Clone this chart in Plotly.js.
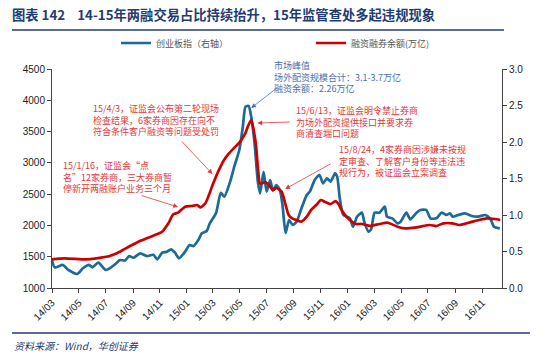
<!DOCTYPE html>
<html>
<head>
<meta charset="utf-8">
<script src="https://cdn.plot.ly/plotly-3.0.1.min.js"></script>
<style>html,body{margin:0;padding:0;background:#fff;}#chart{width:550px;height:358px;}</style>
</head>
<body>
<div id="chart"></div>
<script>
// 创业板指 (drawn on the 1000-4500 axis)
const cybDates = ['2014-03-01','2014-03-07','2014-03-26','2014-04-07','2014-04-27','2014-05-10','2014-05-24','2014-06-01','2014-06-14','2014-07-01','2014-07-10','2014-07-25','2014-08-02','2014-08-14','2014-08-23','2014-09-02','2014-09-17','2014-10-02','2014-10-17','2014-10-26','2014-11-06','2014-11-17','2014-11-26','2014-12-05','2014-12-14','2014-12-28','2015-01-07','2015-01-16','2015-01-27','2015-02-04','2015-02-15','2015-02-22','2015-03-08','2015-03-19','2015-03-27','2015-04-08','2015-04-19','2015-04-30','2015-05-08','2015-05-14','2015-05-21','2015-05-27','2015-06-04','2015-06-11','2015-06-16','2015-06-24','2015-07-01','2015-07-09','2015-07-15','2015-07-23','2015-07-31','2015-08-06','2015-08-13','2015-08-21','2015-08-29','2015-09-07','2015-09-18','2015-09-30','2015-10-07','2015-10-18','2015-10-29','2015-11-06','2015-11-15','2015-11-23','2015-12-03','2015-12-08','2015-12-14','2015-12-22','2016-01-06','2016-01-13','2016-01-22','2016-02-02','2016-02-08','2016-02-17','2016-02-23','2016-03-02','2016-03-13','2016-03-25','2016-03-30','2016-04-11','2016-04-23','2016-04-30','2016-05-13','2016-05-22','2016-06-05','2016-06-14','2016-06-27','2016-07-07','2016-07-20','2016-08-01','2016-08-12','2016-08-20','2016-08-26','2016-09-08','2016-09-23','2016-10-08','2016-10-23','2016-11-08','2016-11-19','2016-11-28','2016-12-11'];
const cybValues = [1447,1331,1368,1288,1224,1315,1368,1331,1405,1288,1315,1395,1447,1440,1511,1484,1554,1511,1530,1458,1565,1580,1618,1565,1475,1580,1687,1670,1767,1874,1911,2034,2193,2522,2459,2673,2950,3205,3578,3898,3910,3737,3285,2700,2513,2858,2540,2726,2560,2646,2566,2326,1880,2087,2007,2060,2273,2486,2540,2726,2806,2673,2753,2700,2833,2780,2433,2167,2113,1980,2140,2204,2044,1900,1937,2204,2204,2300,2140,2113,2033,2060,2204,2097,2204,2247,2247,2113,2113,2204,2167,2193,2140,2167,2193,2151,2140,2167,2113,1980,1953];

// 融资融券余额 (万亿, drawn on the 0-3 axis)
const marginDates = ['2014-03-01','2014-03-29','2014-05-17','2014-06-10','2014-07-10','2014-08-02','2014-08-25','2014-09-09','2014-10-02','2014-10-25','2014-11-06','2014-11-20','2014-12-01','2014-12-12','2014-12-28','2015-01-13','2015-01-24','2015-02-01','2015-02-12','2015-03-01','2015-03-12','2015-03-25','2015-04-06','2015-04-20','2015-04-30','2015-05-12','2015-05-20','2015-05-27','2015-06-06','2015-06-12','2015-06-16','2015-06-28','2015-07-09','2015-07-15','2015-07-23','2015-08-04','2015-08-13','2015-08-20','2015-08-28','2015-09-07','2015-09-18','2015-09-30','2015-10-10','2015-10-22','2015-11-01','2015-11-10','2015-11-23','2015-12-04','2015-12-10','2015-12-18','2015-12-29','2016-01-10','2016-01-20','2016-02-02','2016-02-21','2016-03-13','2016-04-01','2016-04-23','2016-05-10','2016-06-05','2016-07-05','2016-07-20','2016-08-05','2016-08-25','2016-09-10','2016-10-01','2016-10-25','2016-11-12','2016-11-30','2016-12-12'];
const marginValues = [0.393,0.407,0.393,0.407,0.438,0.497,0.575,0.621,0.68,0.735,0.771,0.886,1.009,1.032,1.114,1.123,1.137,1.105,1.16,1.42,1.58,1.74,1.84,1.93,1.99,2.1,2.22,2.3,2.0,1.59,1.43,1.45,1.39,1.34,1.37,1.32,1.14,1.0,0.955,0.93,0.91,0.977,1.07,1.14,1.205,1.18,1.15,1.19,1.16,1.07,0.977,0.91,0.877,0.877,0.85,0.877,0.894,0.84,0.817,0.831,0.863,0.849,0.886,0.886,0.863,0.894,0.932,0.955,0.945,0.932];

const seriesNames = ['创业板指（右轴）', '融资融券余额(万亿)'];
const leftTicks = [1000,1500,2000,2500,3000,3500,4000,4500];
const rightTicks = [0.0,0.5,1.0,1.5,2.0,2.5,3.0];
const rightTickText = ['0.0','0.5','1.0','1.5','2.0','2.5','3.0'];

const titleText = '图表 142\u00a0\u00a0\u00a0\u00a014-15年两融交易占比持续抬升，15年监管查处多起违规现象';
const sourceText = '资料来源：Wind，华创证券';
const peakText = '市场峰值<br>场外配资规模合计：3.1-3.7万亿<br>融资余额：2.26万亿';
const note1 = '15/1/16，证监会“点<br>名”12家券商，三大券商暂<br>停新开两融账户业务三个月';
const note2 = '15/4/3，证监会公布第二轮现场<br>检查结果，6家券商因存在向不<br>符合条件客户融资等问题受处罚';
const note3 = '15/6/13，证监会明令禁止券商<br>为场外配资提供接口并要求券<br>商清查端口问题';
const note4 = '15/8/24，4家券商因涉嫌未按规<br>定审查、了解客户身份等违法违<br>规行为，被证监会立案调查';

const BLUE = '#1b6a98', RED = '#cc0000', NOTE_RED = '#e0383c', NOTE_BLUE = '#4a70ae', NAVY = '#1f3c74';
const CJK = '"Noto Sans CJK SC", "Liberation Sans", sans-serif';
const LAT = '"Liberation Sans", Arial, sans-serif';

// layout geometry (px)
const W = 550, H = 358, L = 52, R = 48, T = 69, B = 70;
const PW = W - L - R, PH = H - T - B;
const px = x => (x - L) / PW;
const py = y => (H - B - y) / PH;

const traces = [
  {x: cybDates, y: cybValues, name: seriesNames[0], type: 'scatter', mode: 'lines',
   line: {color: BLUE, width: 2.7, shape: 'spline', smoothing: 0.6}, yaxis: 'y'},
  {x: marginDates, y: marginValues, name: seriesNames[1], type: 'scatter', mode: 'lines',
   line: {color: RED, width: 2.7, shape: 'spline', smoothing: 0.6}, yaxis: 'y2'}
];

function txt(text, x, y, color) {
  return {text: text, xref: 'paper', yref: 'paper', x: px(x), y: py(y), xanchor: 'left', yanchor: 'top',
    align: 'left', showarrow: false, font: {family: CJK, size: 9, color: color}};
}
function arrow(xd, yd, ax, ay, color) {
  return {text: '', xref: 'x', yref: 'y', x: xd, y: yd, ax: ax, ay: ay, showarrow: true,
    arrowhead: 2, arrowsize: 1.2, arrowwidth: 0.8, arrowcolor: color};
}

const layout = {
  width: W, height: H,
  margin: {l: L, r: R, t: T, b: B, pad: 0},
  paper_bgcolor: '#fff', plot_bgcolor: '#fff',
  showlegend: true,
  legend: {orientation: 'h', x: px(116), xanchor: 'left', y: py(43), yanchor: 'middle',
    font: {family: CJK, size: 9, color: '#555'}, entrywidth: 150, entrywidthmode: 'pixels',
    bgcolor: 'rgba(0,0,0,0)', itemwidth: 30},
  title: {text: '<b>' + titleText + '</b>', x: 12 / W, xanchor: 'left', xref: 'container',
    y: 1 - 15 / H, yanchor: 'middle', yref: 'container',
    font: {family: CJK, size: 13.3, color: NAVY}},
  xaxis: {type: 'date', range: ['2014-03-01', '2016-12-16'], dtick: 'M2', tick0: '2014-03-01',
    tickformat: '%y/%m', tickangle: -45, ticks: 'outside', ticklen: 4, tickcolor: '#444',
    showline: true, linecolor: '#444', linewidth: 1, showgrid: false, zeroline: false,
    tickfont: {family: LAT, size: 10, color: '#222'}},
  yaxis: {range: [1000, 4500], tickvals: leftTicks, ticks: 'outside', ticklen: 4, tickcolor: '#444',
    showline: true, linecolor: '#444', linewidth: 1, showgrid: false, zeroline: false,
    tickfont: {family: LAT, size: 10, color: '#222'}},
  yaxis2: {range: [0, 3], overlaying: 'y', side: 'right', tickvals: rightTicks, ticktext: rightTickText,
    ticks: 'outside', ticklen: 4, tickcolor: '#444', showline: true, linecolor: '#444', linewidth: 1,
    showgrid: false, zeroline: false, tickfont: {family: LAT, size: 10, color: '#222'}},
  shapes: [
    {type: 'line', xref: 'paper', yref: 'paper', x0: px(12), x1: px(504), y0: py(30), y1: py(30),
     line: {color: NAVY, width: 1.5}},
    {type: 'line', xref: 'paper', yref: 'paper', x0: px(12), x1: px(530), y0: py(333), y1: py(333),
     line: {color: NAVY, width: 1.5}}
  ],
  annotations: [
    {text: '<i>' + sourceText + '</i>', xref: 'paper', yref: 'paper', x: px(12), y: py(345),
     xanchor: 'left', yanchor: 'middle', showarrow: false, font: {family: CJK, size: 10, color: NAVY}},
    txt(peakText, 272, 57, NOTE_BLUE),
    txt(note2, 91, 100, NOTE_RED),
    txt(note1, 61, 157, NOTE_RED),
    txt(note3, 294, 102, NOTE_RED),
    txt(note4, 337, 141, NOTE_RED),
    arrow('2015-05-27', 3877, 27, -21, NOTE_BLUE),
    arrow('2015-02-28', 2822, -32, -34, NOTE_RED),
    arrow('2014-12-12', 2294, -38, -12, NOTE_RED),
    arrow('2015-06-10', 3637, 34, -1, NOTE_RED),
    arrow('2015-08-12', 2582, 47, -26, NOTE_RED)
  ]
};

Plotly.newPlot('chart', traces, layout, {displayModeBar: false, staticPlot: true});
</script>
</body>
</html>
